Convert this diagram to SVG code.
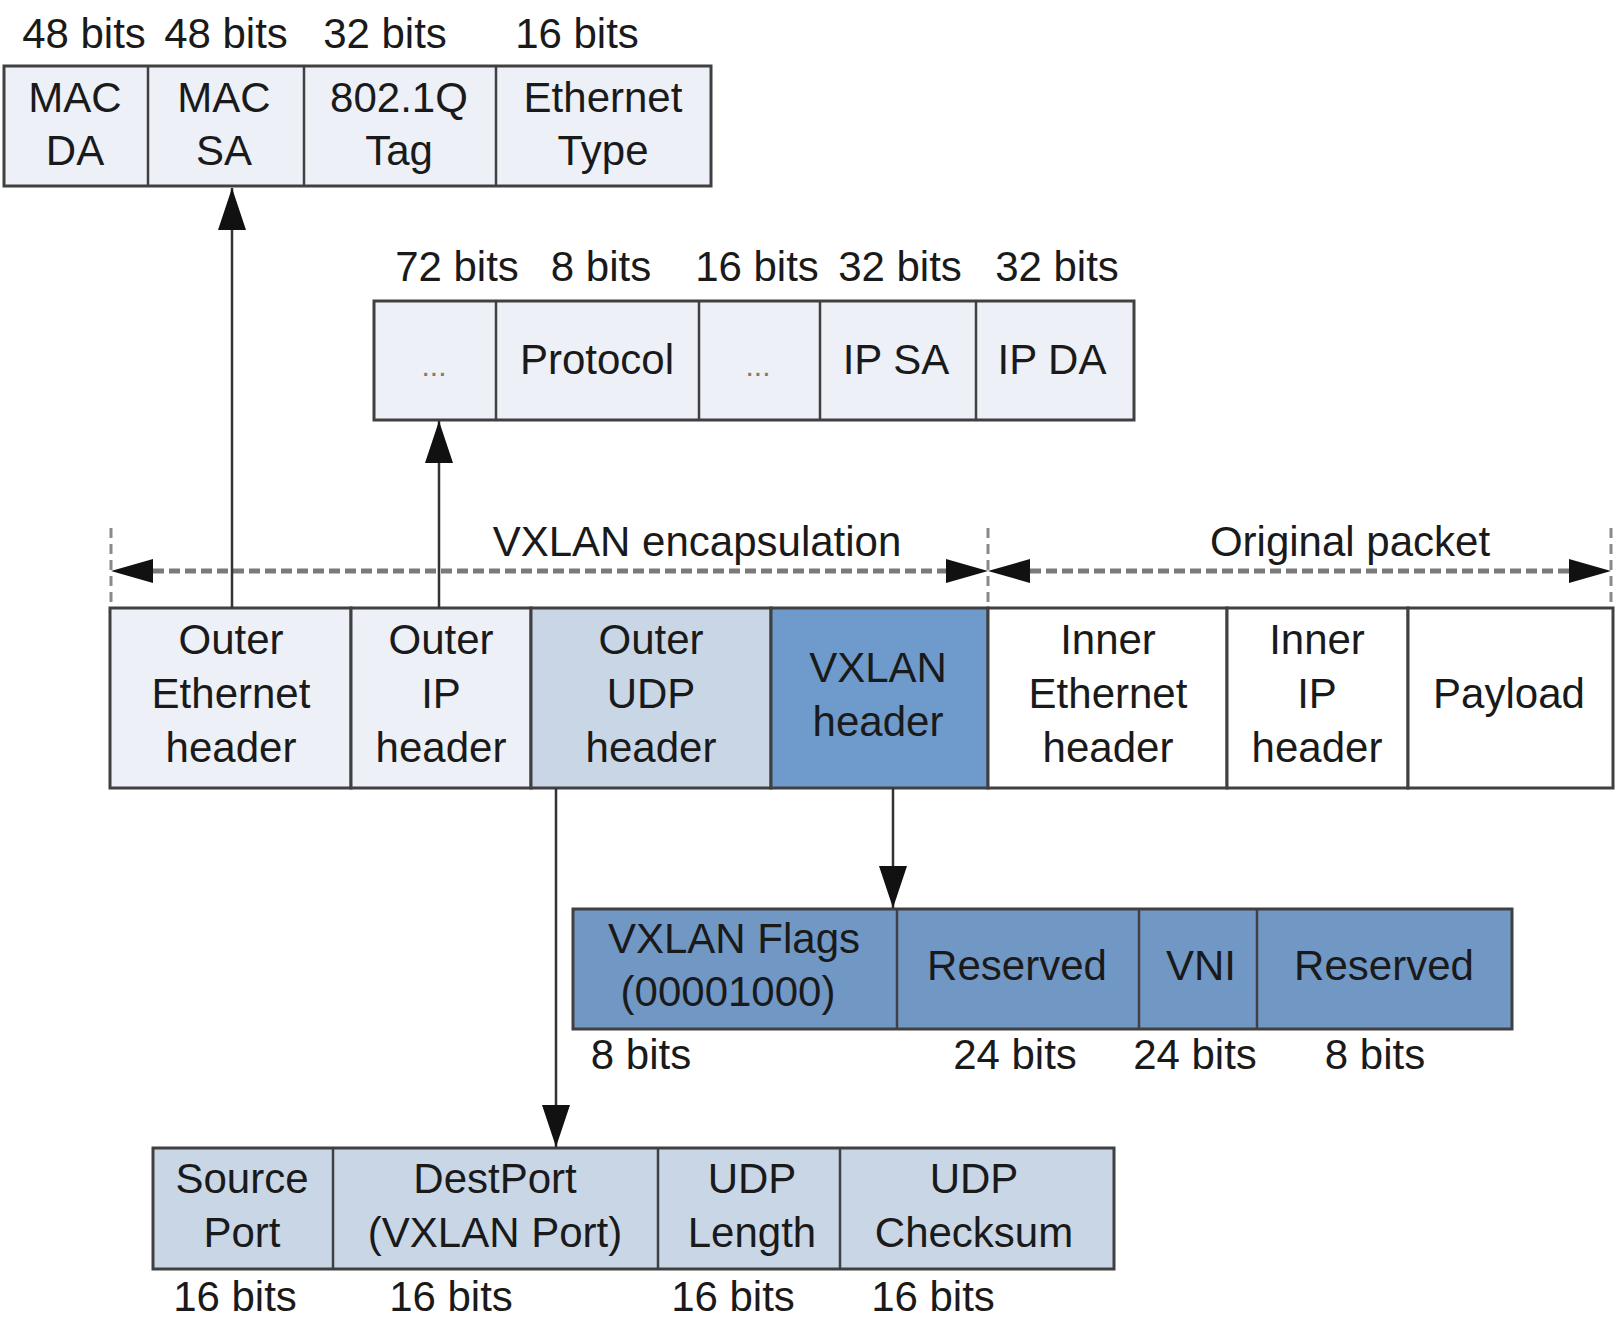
<svg xmlns="http://www.w3.org/2000/svg" width="1616" height="1329" viewBox="0 0 1616 1329">
<style>
text{font-family:"Liberation Sans",Arial,sans-serif;font-size:42px;fill:#1a1a1a;text-anchor:middle}
.box{stroke:#404040;stroke-width:3}
.div{stroke:#404040;stroke-width:2.5}
.l1{fill:#edf0f6}
.l2{fill:#c9d6e6}
.b1{fill:#6e9bcb}
.b2{fill:#7197c5}
.w{fill:#ffffff}
.dim{stroke:#7a7a7a;stroke-width:5;stroke-dasharray:11 5;fill:none}
.tick{stroke:#8a8a8a;stroke-width:3;stroke-dasharray:10 6;fill:none}
.con{stroke:#333;stroke-width:2.5;fill:none}
.dots{fill:#8a7a60;font-size:30px}
</style>
<defs>
<marker id="ah" viewBox="0 0 42 28" refX="42" refY="14" markerWidth="42" markerHeight="28" markerUnits="userSpaceOnUse" orient="auto">
<path d="M0,0 L42,14 L0,28 Z" fill="#111"/>
</marker>
</defs>

<g id="mac-fields">
<rect class="box l1" x="4" y="66" width="707" height="120"/>
<line class="div" x1="148" y1="66" x2="148" y2="186"/>
<line class="div" x1="304" y1="66" x2="304" y2="186"/>
<line class="div" x1="496" y1="66" x2="496" y2="186"/>
<text x="84" y="48">48 bits</text>
<text x="226" y="48">48 bits</text>
<text x="385" y="48">32 bits</text>
<text x="577" y="48">16 bits</text>
<text x="75" y="112">MAC</text><text x="75" y="165">DA</text>
<text x="224" y="112">MAC</text><text x="224" y="165">SA</text>
<text x="399" y="112">802.1Q</text><text x="399" y="165">Tag</text>
<text x="603" y="112">Ethernet</text><text x="603" y="165">Type</text>
</g>

<g id="ip-fields">
<rect class="box l1" x="374" y="301" width="760" height="119"/>
<line class="div" x1="496" y1="301" x2="496" y2="420"/>
<line class="div" x1="699" y1="301" x2="699" y2="420"/>
<line class="div" x1="820" y1="301" x2="820" y2="420"/>
<line class="div" x1="976" y1="301" x2="976" y2="420"/>
<text x="457" y="281">72 bits</text>
<text x="601" y="281">8 bits</text>
<text x="757" y="281">16 bits</text>
<text x="900" y="281">32 bits</text>
<text x="1057" y="281">32 bits</text>
<text class="dots" x="434" y="376">...</text>
<text x="597" y="374">Protocol</text>
<text class="dots" x="758" y="376">...</text>
<text x="896" y="374">IP SA</text>
<text x="1052" y="374">IP DA</text>
</g>

<g id="vxlan-packet">
<rect class="box l1" x="110" y="608" width="241" height="180"/>
<rect class="box l1" x="351" y="608" width="180" height="180"/>
<rect class="box l2" x="531" y="608" width="240" height="180"/>
<rect class="box b1" x="771" y="608" width="217" height="180"/>
<rect class="box w" x="988" y="608" width="239" height="180"/>
<rect class="box w" x="1227" y="608" width="181" height="180"/>
<rect class="box w" x="1408" y="608" width="205" height="180"/>
<text x="231" y="654">Outer</text><text x="231" y="708">Ethernet</text><text x="231" y="762">header</text>
<text x="441" y="654">Outer</text><text x="441" y="708">IP</text><text x="441" y="762">header</text>
<text x="651" y="654">Outer</text><text x="651" y="708">UDP</text><text x="651" y="762">header</text>
<text x="878" y="682">VXLAN</text><text x="878" y="736">header</text>
<text x="1108" y="654">Inner</text><text x="1108" y="708">Ethernet</text><text x="1108" y="762">header</text>
<text x="1317" y="654">Inner</text><text x="1317" y="708">IP</text><text x="1317" y="762">header</text>
<text x="1509" y="708">Payload</text>
</g>

<g id="dimensions">
<line class="tick" x1="111" y1="528" x2="111" y2="606"/>
<line class="tick" x1="988" y1="528" x2="988" y2="606"/>
<line class="tick" x1="1611" y1="528" x2="1611" y2="606"/>
<line class="dim" x1="153" y1="571" x2="946" y2="571"/>
<line class="dim" x1="1030" y1="571" x2="1569" y2="571"/>
<path d="M111,571 L153,559 L153,583 Z" fill="#111"/>
<path d="M988,571 L946,559 L946,583 Z" fill="#111"/>
<path d="M988,571 L1030,559 L1030,583 Z" fill="#111"/>
<path d="M1611,571 L1569,559 L1569,583 Z" fill="#111"/>
<text x="697" y="556">VXLAN encapsulation</text>
<text x="1350" y="556">Original packet</text>
</g>

<g id="vxlan-fields">
<rect class="box b2" x="573" y="909" width="939" height="120"/>
<line class="div" x1="897" y1="909" x2="897" y2="1029"/>
<line class="div" x1="1139" y1="909" x2="1139" y2="1029"/>
<line class="div" x1="1257" y1="909" x2="1257" y2="1029"/>
<text x="734" y="953">VXLAN Flags</text>
<text x="728" y="1006">(00001000)</text>
<text x="1017" y="980">Reserved</text>
<text x="1201" y="980">VNI</text>
<text x="1384" y="980">Reserved</text>
<text x="641" y="1069">8 bits</text>
<text x="1015" y="1069">24 bits</text>
<text x="1195" y="1069">24 bits</text>
<text x="1375" y="1069">8 bits</text>
</g>

<g id="udp-fields">
<rect class="box l2" x="153" y="1148" width="961" height="121"/>
<line class="div" x1="333" y1="1148" x2="333" y2="1269"/>
<line class="div" x1="658" y1="1148" x2="658" y2="1269"/>
<line class="div" x1="840" y1="1148" x2="840" y2="1269"/>
<text x="242" y="1193">Source</text><text x="242" y="1247">Port</text>
<text x="495" y="1193">DestPort</text><text x="495" y="1247">(VXLAN Port)</text>
<text x="752" y="1193">UDP</text><text x="752" y="1247">Length</text>
<text x="974" y="1193">UDP</text><text x="974" y="1247">Checksum</text>
<text x="235" y="1311">16 bits</text>
<text x="451" y="1311">16 bits</text>
<text x="733" y="1311">16 bits</text>
<text x="933" y="1311">16 bits</text>
</g>

<g id="connectors">
<line class="con" x1="232" y1="608" x2="232" y2="188" marker-end="url(#ah)"/>
<line class="con" x1="439" y1="608" x2="439" y2="421" marker-end="url(#ah)"/>
<line class="con" x1="556" y1="788" x2="556" y2="1147" marker-end="url(#ah)"/>
<line class="con" x1="893" y1="788" x2="893" y2="908" marker-end="url(#ah)"/>
</g>
</svg>
